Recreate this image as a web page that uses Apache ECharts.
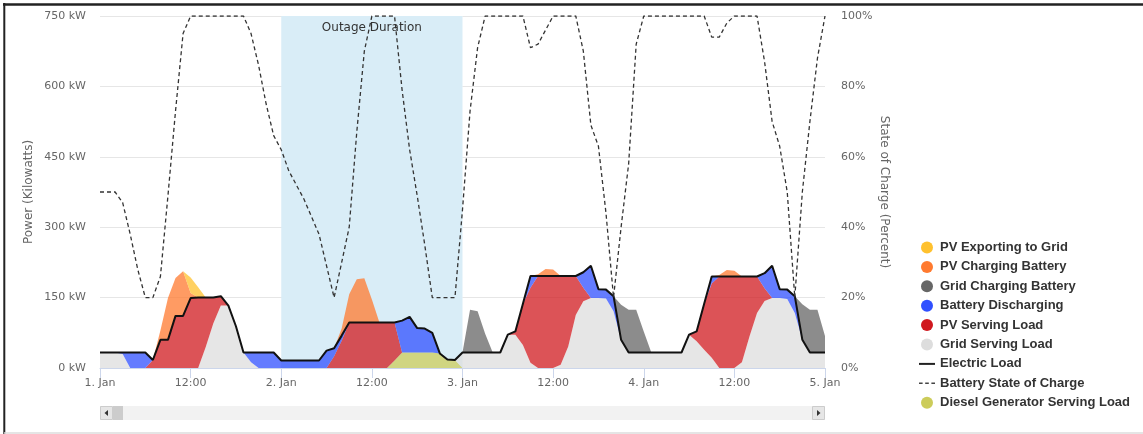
<!DOCTYPE html>
<html>
<head>
<meta charset="utf-8">
<script src="https://cdn.jsdelivr.net/npm/echarts@6/dist/echarts.min.js"></script>
<style>
html,body{margin:0;padding:0;background:#fff;}
#chart{width:1143px;height:434px;}
</style>
</head>
<body>
<div id="chart"></div>
<script>
// Hour index 0..96 (1. Jan 00:00 to 5. Jan 00:00)
const hours = Array.from({length: 97}, (_, i) => i);
const tickLabels = ['1. Jan', '12:00', '2. Jan', '12:00', '3. Jan', '12:00', '4. Jan', '12:00', '5. Jan'];

const electricLoad = [
  33,33,33,33,33,33,33,17,60,60,111,111,149,150,150,150,153,133,89,33,33,33,33,33,
  16,16,16,16,16,16,37,42,69,97,97,97,97,97,97,97,101,109,85,84,75,31,18,17,
  33,33,33,33,33,33,71,78,137,196,196,196,196,196,196,196,204,218,168,167,153,60,33,33,
  33,33,33,33,33,33,71,78,137,195,195,195,195,195,195,195,202,218,168,167,153,60,33,33,
  33];

const gridServingLoad = [
  33,33,33,30,0,0,0,0,0,0,0,0,0,0,45,95,133,133,89,33,12,0,0,0,
  0,0,0,0,0,0,0,0,0,0,0,0,0,0,0,0,0,0,0,0,0,0,0,0,
  33,33,33,33,33,33,71,71,49,11,0,0,0,7,46,113,142,149,149,148,121,60,33,33,
  33,33,33,33,33,33,71,57,39,22,0,0,0,12,67,117,143,149,149,147,117,60,33,33,
  33];

const dieselServingLoad = [
  0,0,0,0,0,0,0,0,0,0,0,0,0,0,0,0,0,0,0,0,0,0,0,0,
  0,0,0,0,0,0,0,0,0,0,0,0,0,0,0,16,33,33,33,33,33,31,18,17,
  0,0,0,0,0,0,0,0,0,0,0,0,0,0,0,0,0,0,0,0,0,0,0,0,
  0,0,0,0,0,0,0,0,0,0,0,0,0,0,0,0,0,0,0,0,0,0,0,0,
  0];

const pvServingLoad = [
  0,0,0,0,0,0,0,17,60,60,111,111,149,150,105,55,20,0,0,0,0,0,0,0,
  0,0,0,0,0,0,0,25,58,97,97,97,97,97,97,81,0,0,0,0,0,0,0,0,
  0,0,0,0,0,0,0,7,88,160,196,196,196,189,150,83,29,0,0,0,0,0,0,0,
  0,0,0,0,0,0,0,21,98,158,195,195,195,183,128,78,27,0,0,0,0,0,0,0,
  0];

const batteryDischarging = [
  0,0,0,3,33,33,33,0,0,0,0,0,0,0,0,0,0,0,0,0,21,33,33,33,
  16,16,16,16,16,16,37,17,11,0,0,0,0,0,0,0,68,76,52,51,42,0,0,0,
  0,0,0,0,0,0,0,0,0,25,0,0,0,0,0,0,33,69,19,19,32,0,0,0,
  0,0,0,0,0,0,0,0,0,15,0,0,0,0,0,0,32,69,19,20,36,0,0,0,
  0];

const gridChargingBattery = [
  0,0,0,0,0,0,0,0,0,0,0,0,0,0,0,0,0,0,0,0,0,0,0,0,
  0,0,0,0,0,0,0,0,0,0,0,0,0,0,0,0,0,0,0,0,0,0,0,0,
  0,91,88,40,0,0,0,0,0,0,0,0,0,0,0,0,0,0,0,0,0,75,91,91,
  45,0,0,0,0,0,0,0,0,0,0,0,0,0,0,0,0,0,0,0,0,76,91,91,
  35];

const pvChargingBattery = [
  0,0,0,0,0,0,0,0,20,89,81,95,11,0,0,0,0,0,0,0,0,0,0,0,
  0,0,0,0,0,0,0,0,15,60,92,94,49,0,0,0,0,0,0,0,0,0,0,0,
  0,0,0,0,0,0,0,0,0,0,4,15,14,0,0,0,0,0,0,0,0,0,0,0,
  0,0,0,0,0,0,0,0,0,0,3,14,12,0,0,0,0,0,0,0,0,0,0,0,
  0];

const pvExportingToGrid = [
  0,0,0,0,0,0,0,0,0,0,0,0,33,22,0,0,0,0,0,0,0,0,0,0,
  0,0,0,0,0,0,0,0,0,0,0,0,0,0,0,0,0,0,0,0,0,0,0,0,
  0,0,0,0,0,0,0,0,0,0,0,0,0,0,0,0,0,0,0,0,0,0,0,0,
  0,0,0,0,0,0,0,0,0,0,0,0,0,0,0,0,0,0,0,0,0,0,0,0,
  0];

const stateOfCharge = [
  50,50,50,47,38,28,20,20,26,49,73,95,100,100,100,100,100,100,100,100,95,86,75,66,
  62,56,52,48,43,38,29,20,30,40,67,90,100,100,100,100,79,62,49,35,20,20,20,20,
  45,73,91,100,100,100,100,100,100,91,92,96,100,100,100,100,90,69,63,44,20,40,58,92,
  100,100,100,100,100,100,100,100,100,94,94,98,100,100,100,100,87,70,63,50,20,50,70,88,
  100];

const outageStart = 24, outageEnd = 48;

const C = {
  pvExport: '#ffc12e', pvCharge: '#ff7a2f', gridCharge: '#666666', battDis: '#3050ff',
  pvServe: '#d0191f', gridServe: '#dddddd', diesel: '#cccc5a'
};

function areaSeries(name, data, color, extra) {
  return Object.assign({
    name: name, type: 'line', stack: 'power', data: data,
    showSymbol: false, symbol: 'none', z: 2,
    itemStyle: {color: color},
    lineStyle: {width: 0, color: color},
    areaStyle: {color: color, opacity: 0.75},
    emphasis: {disabled: true}
  }, extra || {});
}

const chart = echarts.init(document.getElementById('chart'));
const axisFont = 'DejaVu Sans';
chart.setOption({
  animation: false,
  textStyle: {fontFamily: axisFont},
  grid: {left: 100, right: 318, top: 16, bottom: 66, containLabel: false},
  legend: {
    orient: 'vertical', left: 919, top: 241, padding: 0,
    itemWidth: 16, itemHeight: 12, itemGap: 6.4,
    selectedMode: false,
    textStyle: {fontFamily: 'Liberation Sans', fontWeight: 'bold', fontSize: 13, color: '#333', lineHeight: 12},
    data: [
      {name: 'PV Exporting to Grid', icon: 'circle', itemStyle: {color: C.pvExport, borderWidth: 0}},
      {name: 'PV Charging Battery', icon: 'circle', itemStyle: {color: C.pvCharge, borderWidth: 0}},
      {name: 'Grid Charging Battery', icon: 'circle', itemStyle: {color: C.gridCharge, borderWidth: 0}},
      {name: 'Battery Discharging', icon: 'circle', itemStyle: {color: C.battDis, borderWidth: 0}},
      {name: 'PV Serving Load', icon: 'circle', itemStyle: {color: C.pvServe, borderWidth: 0}},
      {name: 'Grid Serving Load', icon: 'circle', itemStyle: {color: C.gridServe, borderWidth: 0}},
      {name: 'Electric Load', icon: 'path://M0 0H16V2H0Z', itemStyle: {color: '#222', borderWidth: 0}},
      {name: 'Battery State of Charge', icon: 'path://M0 0H3.5V1.5H0Z M6 0H9.5V1.5H6Z M12 0H15.5V1.5H12Z', itemStyle: {color: '#444', borderWidth: 0}},
      {name: 'Diesel Generator Serving Load', icon: 'circle', itemStyle: {color: C.diesel, borderWidth: 0}}
    ]
  },
  xAxis: {
    type: 'category', data: hours, boundaryGap: false,
    axisLine: {lineStyle: {color: '#ccd6eb', width: 1}},
    axisTick: {interval: 11, length: 10, lineStyle: {color: '#ccd6eb'}},
    axisLabel: {interval: 11, color: '#666', fontSize: 11, margin: 10,
      formatter: function (v, i) { return tickLabels[i / 12]; }},
    splitLine: {show: false}
  },
  yAxis: [
    {
      type: 'value', min: 0, max: 750, interval: 150,
      name: 'Power (Kilowatts)', nameLocation: 'middle', nameGap: 65, nameMoveOverlap: false,
      nameTextStyle: {color: '#666', fontSize: 12},
      axisLine: {show: false}, axisTick: {show: false},
      axisLabel: {formatter: '{value} kW', color: '#666', fontSize: 11, margin: 14},
      splitLine: {lineStyle: {color: '#e6e6e6'}}
    },
    {
      type: 'value', min: 0, max: 100, interval: 20, position: 'right',
      name: 'State of Charge (Percent)', nameLocation: 'middle', nameGap: 53, nameRotate: -90, nameMoveOverlap: false,
      nameTextStyle: {color: '#666', fontSize: 12},
      axisLine: {show: false}, axisTick: {show: false},
      axisLabel: {formatter: '{value}%', color: '#666', fontSize: 11, margin: 16},
      splitLine: {show: false}
    }
  ],
  series: [
    areaSeries('Diesel Generator Serving Load', dieselServingLoad, C.diesel, {
      markArea: {
        silent: true, z: 1,
        itemStyle: {color: '#d9edf7'},
        label: {show: true, position: 'insideTop', distance: 6, color: '#333', fontSize: 12, fontFamily: axisFont},
        data: [[{name: 'Outage Duration', xAxis: outageStart}, {xAxis: outageEnd}]]
      }
    }),
    areaSeries('Grid Serving Load', gridServingLoad, C.gridServe),
    areaSeries('PV Serving Load', pvServingLoad, C.pvServe),
    areaSeries('Battery Discharging', batteryDischarging, C.battDis),
    areaSeries('Grid Charging Battery', gridChargingBattery, C.gridCharge),
    areaSeries('PV Charging Battery', pvChargingBattery, C.pvCharge),
    areaSeries('PV Exporting to Grid', pvExportingToGrid, C.pvExport),
    {
      name: 'Electric Load', type: 'line', data: electricLoad, z: 4,
      showSymbol: false, symbol: 'none',
      itemStyle: {color: '#111'},
      lineStyle: {color: '#111', width: 2},
      emphasis: {disabled: true}
    },
    {
      name: 'Battery State of Charge', type: 'line', yAxisIndex: 1, data: stateOfCharge, z: 5,
      showSymbol: false, symbol: 'none',
      itemStyle: {color: '#333'},
      lineStyle: {color: '#333', width: 1.3, type: [4, 3]},
      emphasis: {disabled: true}
    }
  ],
  graphic: [
    {type: 'line', shape: {x1: 3, y1: 4.5, x2: 1143, y2: 4.5}, style: {stroke: '#222', lineWidth: 2.5}, silent: true},
    {type: 'line', shape: {x1: 4.3, y1: 3, x2: 4.3, y2: 434}, style: {stroke: '#222', lineWidth: 2}, silent: true},
    {type: 'line', shape: {x1: 4, y1: 433, x2: 1143, y2: 433}, style: {stroke: '#dddddd', lineWidth: 1.5}, silent: true},
    {type: 'rect', shape: {x: 100, y: 406, width: 725, height: 14}, style: {fill: '#f2f2f2'}, silent: true},
    {type: 'rect', shape: {x: 100.5, y: 406.5, width: 12, height: 13}, style: {fill: '#e6e6e6', stroke: '#cccccc', lineWidth: 1}, silent: true},
    {type: 'rect', shape: {x: 113, y: 406, width: 10, height: 14}, style: {fill: '#cccccc'}, silent: true},
    {type: 'rect', shape: {x: 812.5, y: 406.5, width: 12, height: 13}, style: {fill: '#e6e6e6', stroke: '#cccccc', lineWidth: 1}, silent: true},
    {type: 'polygon', shape: {points: [[108, 410], [108, 416], [104.5, 413]]}, style: {fill: '#333'}, silent: true},
    {type: 'polygon', shape: {points: [[817, 410], [817, 416], [820.5, 413]]}, style: {fill: '#333'}, silent: true}
  ]
});
</script>
</body>
</html>
